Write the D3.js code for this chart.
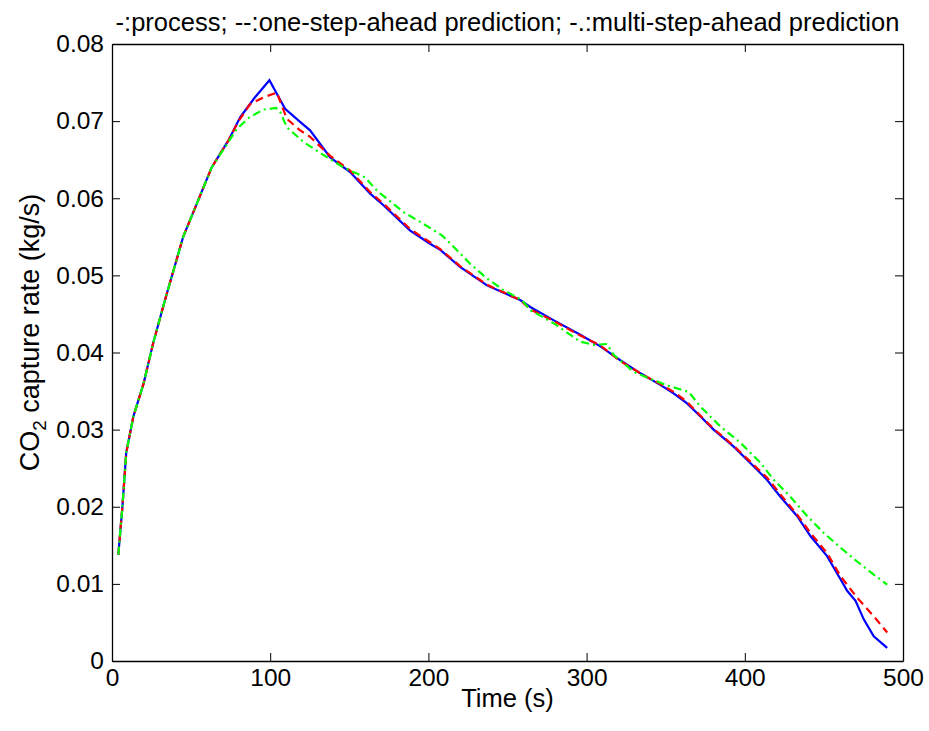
<!DOCTYPE html>
<html>
<head>
<meta charset="utf-8">
<script src="https://cdn.jsdelivr.net/npm/d3@7"></script>
<style>
  html, body { margin: 0; padding: 0; background: #fff; }
  svg { display: block; }
  text { font-family: "Liberation Sans", Arial, sans-serif; fill: #000; }
</style>
</head>
<body>
<svg id="chart" width="929" height="731"></svg>
<script>
// ---- Data ----
const titleText = "-:process; --:one-step-ahead prediction; -.:multi-step-ahead prediction";
const xTicks = [0, 100, 200, 300, 400, 500];
const yTicks = [0, 0.01, 0.02, 0.03, 0.04, 0.05, 0.06, 0.07, 0.08];
const yTickLabels = ["0", "0.01", "0.02", "0.03", "0.04", "0.05", "0.06", "0.07", "0.08"];

const processT = [4, 6.5, 9, 13.5, 20, 26, 33.5, 45, 63, 73.6, 81, 90, 99.5, 109.4, 118.9, 125.2, 137.9, 150.5, 163.2, 171.6, 188.5, 201, 207.5, 220, 237, 258, 264.4, 279, 296, 308.7, 321.3, 334, 346.6, 355, 363.5, 372, 380.3, 393, 407.8, 414, 422.5, 433, 441.5, 452, 460.5, 464.7, 470, 475.2, 481.5, 490];
const processY = [0.0138, 0.0198, 0.027, 0.0317, 0.036, 0.0412, 0.0468, 0.055, 0.064, 0.0675, 0.0705, 0.073, 0.0753, 0.0716, 0.0699, 0.0688, 0.0653, 0.0634, 0.0606, 0.0591, 0.0558, 0.0541, 0.0533, 0.0511, 0.0487, 0.0468, 0.0459, 0.0442, 0.0423, 0.0408, 0.039, 0.0373, 0.0358, 0.0347, 0.0334, 0.0317, 0.03, 0.0278, 0.0248, 0.0235, 0.0213, 0.0188, 0.0162, 0.0136, 0.0106, 0.0091, 0.0078, 0.0054, 0.0032, 0.0017];

const oneStepT = [4, 6.5, 9, 13.5, 20, 26, 33.5, 45, 63, 73.6, 80, 87.3, 96, 104.2, 110.5, 118.9, 125, 137.9, 150.5, 163.2, 171.6, 188.5, 201, 207.5, 220, 237, 258, 264.4, 279, 296, 308.7, 321.3, 334, 346.6, 355, 363.5, 372, 380.3, 393, 407.8, 414, 422.5, 433, 441.5, 452, 460.5, 471, 481.5, 490];
const oneStepY = [0.0138, 0.0198, 0.027, 0.0317, 0.036, 0.0412, 0.0468, 0.055, 0.064, 0.0675, 0.07, 0.0722, 0.0731, 0.0737, 0.0703, 0.0688, 0.068, 0.0655, 0.0636, 0.0608, 0.0593, 0.056, 0.0543, 0.0534, 0.0512, 0.0488, 0.0468, 0.0456, 0.0441, 0.0422, 0.0409, 0.0389, 0.0373, 0.0359, 0.0349, 0.0336, 0.0318, 0.0301, 0.0279, 0.025, 0.0238, 0.0216, 0.019, 0.0166, 0.014, 0.011, 0.0082, 0.0058, 0.0037];

const multiStepT = [4, 6.5, 9, 13.5, 20, 26, 33.5, 45, 63, 73.6, 78.9, 87, 95.7, 103.7, 106.3, 110.5, 121, 133.7, 146.3, 154.8, 160, 167.4, 184.3, 195.9, 208.5, 215.9, 226.4, 237, 247.5, 259.1, 264.4, 279.1, 296, 304.4, 312.9, 317.1, 329.7, 342.4, 353, 364.5, 371.9, 384.6, 397.2, 409.9, 418.3, 428.8, 439.4, 449.9, 460.5, 471, 481.5, 490];
const multiStepY = [0.0138, 0.0198, 0.027, 0.0317, 0.036, 0.0412, 0.0468, 0.055, 0.064, 0.0673, 0.069, 0.0705, 0.0715, 0.0717, 0.0712, 0.0692, 0.0673, 0.0656, 0.064, 0.0632, 0.0627, 0.061, 0.0582, 0.0568, 0.0552, 0.0537, 0.0515, 0.0496, 0.0481, 0.0468, 0.0455, 0.0438, 0.0414, 0.041, 0.0411, 0.0397, 0.0375, 0.0364, 0.0356, 0.0349, 0.033, 0.0304, 0.0283, 0.0257, 0.0235, 0.0213, 0.0188, 0.0166, 0.0147, 0.0129, 0.0112, 0.0099];

// ---- Layout ----
const margin = { left: 112, top: 44, right: 26, bottom: 70 };
const W = 929, H = 731;
const pw = W - margin.left - margin.right;   // plot width
const ph = H - margin.top - margin.bottom;   // plot height

const svg = d3.select("#chart");
const g = svg.append("g").attr("transform", `translate(${margin.left},${margin.top})`);

const x = d3.scaleLinear().domain([0, 500]).range([0, pw]);
const y = d3.scaleLinear().domain([0, 0.08]).range([ph, 0]);

const tickLen = 8;
const fs = 24.5;
const lfs = 25.5;

// axes (ticks inward, box)
const xAxisB = d3.axisBottom(x).tickValues(xTicks).tickSizeInner(-tickLen).tickSizeOuter(0).tickPadding(8);
const xAxisT = d3.axisTop(x).tickValues(xTicks).tickSizeInner(-tickLen).tickSizeOuter(0).tickFormat("");
const yAxisL = d3.axisLeft(y).tickValues(yTicks).tickSizeInner(-tickLen).tickSizeOuter(0).tickPadding(8)
  .tickFormat((d, i) => yTickLabels[i]);
const yAxisR = d3.axisRight(y).tickValues(yTicks).tickSizeInner(-tickLen).tickSizeOuter(0).tickFormat("");

function styleAxis(sel) {
  sel.select(".domain").attr("stroke", "#000").attr("stroke-width", 1.3);
  sel.selectAll(".tick line").attr("stroke", "#000").attr("stroke-width", 1);
  sel.selectAll(".tick text").attr("font-size", fs).attr("font-family", "'Liberation Sans', Arial, sans-serif").attr("fill", "#000");
}

g.append("g").attr("transform", `translate(0,${ph})`).call(xAxisB).call(styleAxis);
g.append("g").call(xAxisT).call(styleAxis);
g.append("g").call(yAxisL).call(styleAxis);
g.append("g").attr("transform", `translate(${pw},0)`).call(yAxisR).call(styleAxis);

// lines
const line = d3.line().x(d => x(d[0])).y(d => y(d[1]));
const series = [
  { t: processT, v: processY, color: "#0000ff", dash: null },
  { t: oneStepT, v: oneStepY, color: "#ff0000", dash: "8,5" },
  { t: multiStepT, v: multiStepY, color: "#00ff00", dash: "8,4,2,4" }
];
series.forEach(s => {
  g.append("path")
    .datum(d3.zip(s.t, s.v))
    .attr("fill", "none")
    .attr("stroke", s.color)
    .attr("stroke-width", 2.2)
    .attr("stroke-dasharray", s.dash)
    .attr("d", line);
});

// title
svg.append("text")
  .attr("x", margin.left + pw / 2)
  .attr("y", 31)
  .attr("text-anchor", "middle")
  .attr("font-size", lfs)
  .text(titleText);

// x label
svg.append("text")
  .attr("x", margin.left + pw / 2)
  .attr("y", 707)
  .attr("text-anchor", "middle")
  .attr("font-size", lfs)
  .text("Time (s)");

// y label with subscript
const ylfs = 27;
const yl = svg.append("text")
  .attr("transform", `translate(39,${margin.top + ph / 2 - 20}) rotate(-90)`)
  .attr("text-anchor", "middle")
  .attr("font-size", ylfs);
yl.append("tspan").text("CO");
yl.append("tspan").attr("font-size", ylfs * 0.7).attr("dy", 7).text("2");
yl.append("tspan").attr("dy", -7).text(" capture rate (kg/s)");
</script>
</body>
</html>
